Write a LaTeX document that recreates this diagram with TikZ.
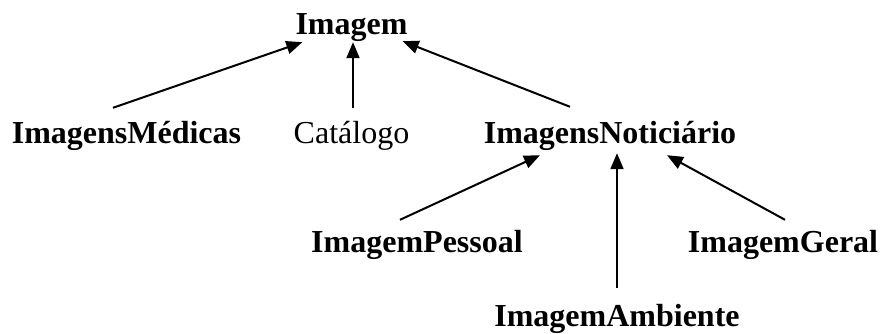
\documentclass[tikz,border=0pt]{standalone}
\usepackage{fontspec}
\setmainfont{Liberation Serif}
\usetikzlibrary{arrows.meta}
\begin{document}
\begin{tikzpicture}
    [x=1pt, y=1pt,
    ClassNode/.style={inner sep=0pt, anchor=base, text height=22pt, text depth=7pt, font=\fontsize{32}{38}\selectfont\bfseries},
    PlainNode/.style={ClassNode, font=\fontsize{32}{38}\selectfont},
    Inherits/.style={-{Triangle[length=16pt, width=13pt]}, line width=2pt}]
     \useasboundingbox (0,0) rectangle (881,334);
     \node[ClassNode] (ImagemNode) at (351.5, 299){Imagem};
     \node[ClassNode] (MedicasNode) at (126.5, 190){ImagensMédicas};
     \node[PlainNode] (CatalogoNode) at (351.5, 190){Catálogo};
     \node[ClassNode] (NoticiarioNode) at (610, 190){ImagensNoticiário};
     \node[ClassNode] (PessoalNode) at (417, 81){ImagemPessoal};
     \node[ClassNode] (GeralNode) at (783, 81){ImagemGeral};
     \node[ClassNode] (AmbienteNode) at (617, 7){ImagemAmbiente};
     \draw[Inherits] ([xshift=-13.5pt, yshift=14pt]MedicasNode.north) -- ([xshift=7pt]ImagemNode.south west);
     \draw[Inherits] ([xshift=1.5pt, yshift=14pt]CatalogoNode.north) -- ([xshift=1.5pt]ImagemNode.south);
     \draw[Inherits] ([xshift=-40pt, yshift=15pt]NoticiarioNode.north) -- ([xshift=-5pt, yshift=1pt]ImagemNode.south east);
     \draw[Inherits] ([xshift=-17pt, yshift=11pt]PessoalNode.north) -- ([xshift=-70pt, yshift=-4pt]NoticiarioNode.south);
     \draw[Inherits] ([yshift=17pt]AmbienteNode.north) -- ([xshift=7pt, yshift=-2pt]NoticiarioNode.south);
     \draw[Inherits] ([xshift=2pt, yshift=11pt]GeralNode.north) -- ([xshift=57pt, yshift=-4pt]NoticiarioNode.south);
\end{tikzpicture}
\end{document}
